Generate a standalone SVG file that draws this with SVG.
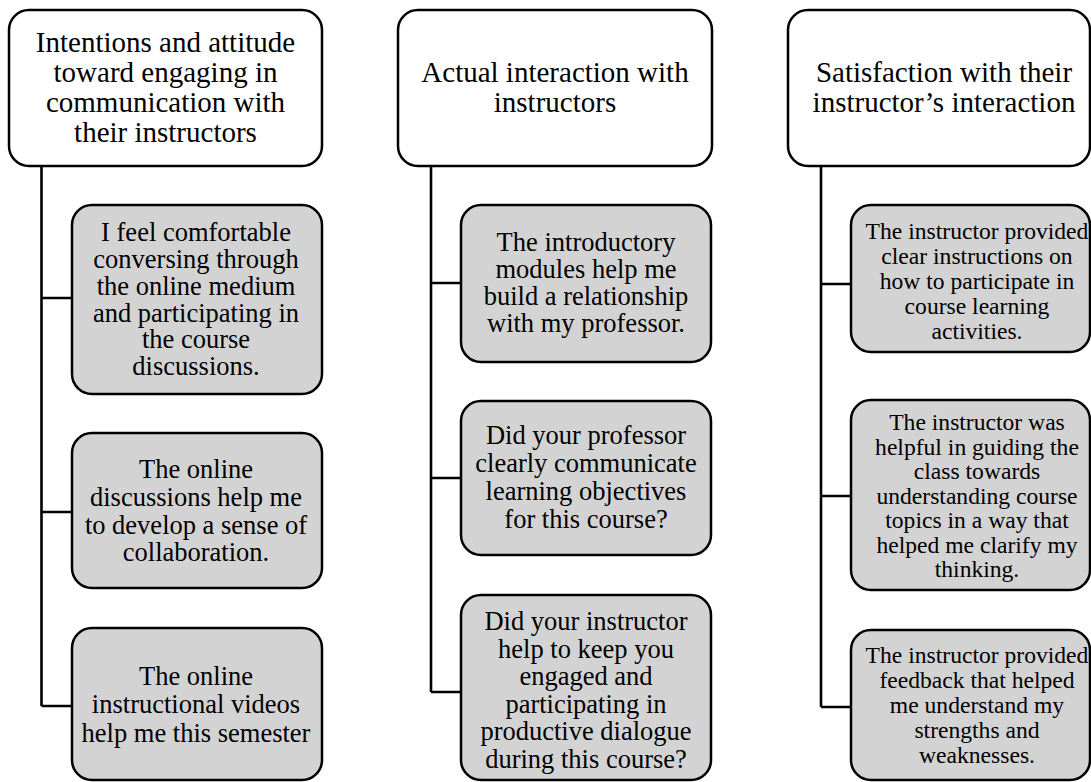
<svg xmlns="http://www.w3.org/2000/svg" width="1091" height="782" viewBox="0 0 1091 782">
<style>
.hdr rect{fill:#ffffff;stroke:#000;stroke-width:2.5}
.kid rect{fill:#d3d3d3;stroke:#000;stroke-width:2.5}
text{font-family:"Liberation Serif","Times New Roman",serif;fill:#000;text-anchor:middle}
.hdr text{font-size:29px}
.c12 text{font-size:26.5px}
.c3 text{font-size:23.6px}
.conn path{fill:none;stroke:#000;stroke-width:2.6}
</style>
<rect width="1091" height="782" fill="#fff"/>
<g class="conn">
<path d="M41.5,166 V706 M41.5,298 H72 M41.5,512 H72 M41.5,706 H72"/>
<path d="M431,166 V692 M431,283 H461 M431,478 H461 M431,692 H461"/>
<path d="M821,166 V707 M821,284 H851 M821,496 H851 M821,707 H851"/>
</g>
<g id="h1" class="hdr"><rect x="9" y="10" width="313" height="156" rx="20"/>
<text x="165.5" y="51.7">Intentions and attitude</text><text x="165.5" y="81.7">toward engaging in</text><text x="165.5" y="111.7">communication with</text><text x="165.5" y="141.7">their instructors</text></g>
<g id="h2" class="hdr"><rect x="398" y="10" width="314" height="156" rx="20"/>
<text x="555" y="81.7">Actual interaction with</text><text x="555" y="111.7">instructors</text></g>
<g id="h3" class="hdr"><rect x="788" y="10" width="302" height="156" rx="20"/>
<text x="944" y="81.7">Satisfaction with their</text><text x="944" y="111.7">instructor’s interaction</text></g>
<g id="n1a" class="kid c12"><rect x="72" y="205" width="250" height="189" rx="20"/>
<text x="196" y="241">I feel comfortable</text><text x="196" y="268">conversing through</text><text x="196" y="295">the online medium</text><text x="196" y="321.5">and participating in</text><text x="196" y="348">the course</text><text x="196" y="375">discussions.</text></g>
<g id="n1b" class="kid c12"><rect x="72" y="433" width="250" height="155" rx="20"/>
<text x="196" y="478.3">The online</text><text x="196" y="506">discussions help me</text><text x="196" y="533.7">to develop a sense of</text><text x="196" y="561">collaboration.</text></g>
<g id="n1c" class="kid c12"><rect x="72" y="628" width="250" height="152" rx="20"/>
<text x="196" y="685">The online</text><text x="196" y="713.3">instructional videos</text><text x="196" y="741.6">help me this semester</text></g>
<g id="n2a" class="kid c12"><rect x="461" y="205" width="250" height="157" rx="20"/>
<text x="586" y="250.5">The introductory</text><text x="586" y="277.7">modules help me</text><text x="586" y="304.9">build a relationship</text><text x="586" y="332">with my professor.</text></g>
<g id="n2b" class="kid c12"><rect x="461" y="401" width="250" height="154" rx="20"/>
<text x="586" y="443.8">Did your professor</text><text x="586" y="471.7">clearly communicate</text><text x="586" y="499.6">learning objectives</text><text x="586" y="527.5">for this course?</text></g>
<g id="n2c" class="kid c12"><rect x="461" y="595" width="250" height="185" rx="20"/>
<text x="586" y="630">Did your instructor</text><text x="586" y="657.6">help to keep you</text><text x="586" y="685">engaged and</text><text x="586" y="712.5">participating in</text><text x="586" y="740">productive dialogue</text><text x="586" y="767.5">during this course?</text></g>
<g id="n3a" class="kid c3"><rect x="851" y="205" width="239" height="147" rx="20"/>
<text x="977" y="238.5">The instructor provided</text><text x="977" y="263.5">clear instructions on</text><text x="977" y="288.5">how to participate in</text><text x="977" y="313.5">course learning</text><text x="977" y="338.5">activities.</text></g>
<g id="n3b" class="kid c3"><rect x="851" y="400" width="239" height="190" rx="20"/>
<text x="977" y="430">The instructor was</text><text x="977" y="454.5">helpful in guiding the</text><text x="977" y="479">class towards</text><text x="977" y="503.5">understanding course</text><text x="977" y="528">topics in a way that</text><text x="977" y="552.5">helped me clarify my</text><text x="977" y="577">thinking.</text></g>
<g id="n3c" class="kid c3"><rect x="851" y="630" width="239" height="150" rx="20"/>
<text x="977" y="663">The instructor provided</text><text x="977" y="688">feedback that helped</text><text x="977" y="713">me understand my</text><text x="977" y="738">strengths and</text><text x="977" y="763">weaknesses.</text></g>
</svg>
